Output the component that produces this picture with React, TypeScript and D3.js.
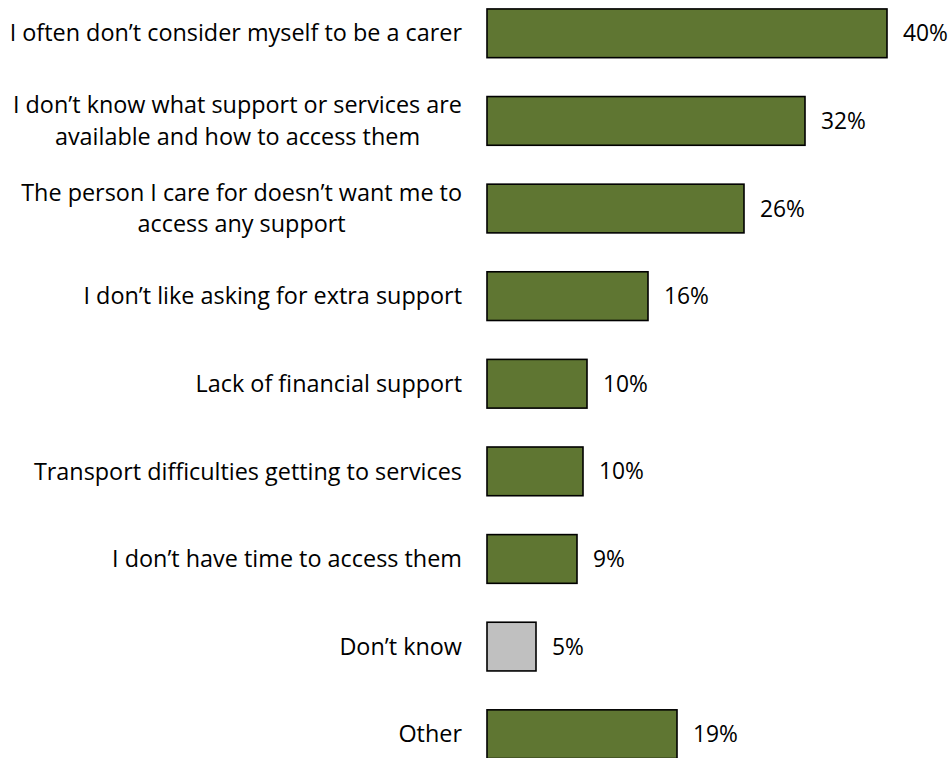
import React, { useEffect, useRef } from "react";
import * as d3 from "d3";

const categories: string[][] = [
  ["I often don\u2019t consider myself to be a carer"],
  ["I don\u2019t know what support or services are", "available and how to access them"],
  ["The person I care for doesn\u2019t want me to", "access any support"],
  ["I don\u2019t like asking for extra support"],
  ["Lack of financial support"],
  ["Transport difficulties getting to services"],
  ["I don\u2019t have time to access them"],
  ["Don\u2019t know"],
  ["Other"],
];
const values: number[] = [40.0, 31.8, 25.7, 16.1, 10.0, 9.6, 9.0, 4.9, 19.0];
const highlight: boolean[] = [false, false, false, false, false, false, false, true, false];

const W = 951;
const H = 758;
const FONT = "'Open Sans', 'Noto Sans', sans-serif";
const FS = 23.4;
const FS_VAL = 22.8;
const GREEN = "#5f7632";
const GREY = "#c0c0c0";

export default function App() {
  const ref = useRef<SVGSVGElement>(null);
  useEffect(() => {
    const svg = d3.select(ref.current);
    svg.selectAll("*").remove();
    const idx = categories.map((_, i) => String(i));
    const y = d3.scaleBand<string>().domain(idx).range([-10.5, 778]).paddingInner(0.444).paddingOuter(0.222);
    const x = d3.scaleLinear().domain([0, 40]).range([487, 887]);
    const bw = y.bandwidth();
    const capHalf = FS * 0.35;
    const lineGap = 31.5;

    const g = svg.append("g");
    categories.forEach((lines, i) => {
      const yc = (y(String(i)) as number) + bw / 2;
      g.append("rect")
        .attr("x", x(0))
        .attr("y", y(String(i)) as number)
        .attr("width", x(values[i]) - x(0))
        .attr("height", bw)
        .attr("fill", highlight[i] ? GREY : GREEN)
        .attr("stroke", "#000")
        .attr("stroke-width", 1.6);
      g.append("text")
        .attr("x", x(values[i]) + 16)
        .attr("y", yc + FS_VAL * 0.35)
        .attr("font-family", FONT)
        .attr("font-size", FS_VAL)
        .attr("fill", "#000")
        .text(Math.round(values[i]) + "%");
      const right = x(0) - 25;
      const n = lines.length;
      const texts = lines.map((ln, j) =>
        g.append("text")
          .attr("x", right)
          .attr("y", yc + capHalf + (j - (n - 1) / 2) * lineGap)
          .attr("text-anchor", "end")
          .attr("font-family", FONT)
          .attr("font-size", FS)
          .attr("fill", "#000")
          .text(ln)
      );
      const widths = texts.map((t) => (t.node() as SVGTextElement).getComputedTextLength());
      const maxW = Math.max(...widths);
      texts.forEach((t, j) => t.attr("x", right - (maxW - widths[j]) / 2));
    });
  }, []);
  return (
    <div style={{ position: "absolute", left: 0, top: 0, width: W, height: H, background: "#fff" }}>
      <svg ref={ref} width={W} height={H} />
    </div>
  );
}
